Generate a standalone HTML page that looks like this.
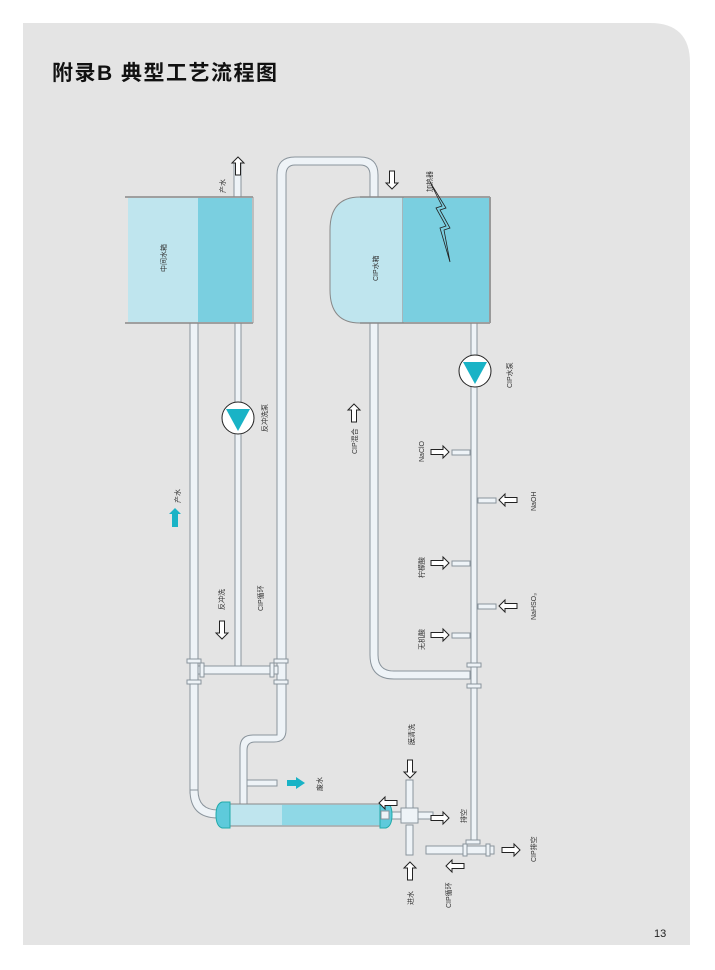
<!DOCTYPE html>
<html><head><meta charset="utf-8"><style>
html,body{margin:0;padding:0;background:#fff;}
svg{display:block;}
text{font-family:"Liberation Sans","Noto Sans CJK SC",sans-serif;fill:#333;font-size:7px;}
</style></head><body>
<svg width="715" height="970" viewBox="0 0 715 970" xmlns="http://www.w3.org/2000/svg">
<defs>
<g id="au"><path d="M0,-9 L6,-3 L2.5,-3 L2.5,9 L-2.5,9 L-2.5,-3 L-6,-3 Z" fill="#fff" stroke="#222" stroke-width="1"/></g>
</defs>
<path d="M23,23 H650 Q690,23 690,63 V945 H23 Z" fill="#e4e4e4"/>
<text x="52" y="80" style="font-size:21px;font-weight:bold;fill:#111;letter-spacing:1.5px">附录B  典型工艺流程图</text>

<g fill="#eef3f7" stroke="#8a949c" stroke-width="1">
<rect x="190" y="323" width="8" height="470"/>
<path d="M190,790 Q190,818 218,818 V810 Q198,810 198,790 Z"/>
<rect x="235" y="323" width="6" height="347"/>
<rect x="234" y="163" width="7" height="34"/>
<path d="M277,735 V175 Q277,157 295,157 H360 Q378,157 378,175 V197 H370 V175 Q370,165 360,165 H295 Q286,165 286,175 V730 Q286,742 274,742 H255 Q247,742 247,750 V805 H240 V748 Q240,735 253,735 Z"/>
<rect x="198" y="666" width="80" height="8"/>
<rect x="247" y="780" width="30" height="6"/>
<rect x="471" y="323" width="6" height="520"/>
<path d="M370,323 V655 Q370,679 394,679 H470 V671 H394 Q378,671 378,655 V323 Z"/>
<rect x="426" y="846" width="68" height="8"/>
<rect x="406" y="780" width="7" height="28"/>
<rect x="406" y="825" width="7" height="30"/>
<rect x="388" y="812" width="45" height="7"/>
<rect x="452" y="450" width="18" height="5"/>
<rect x="478" y="498" width="18" height="5"/>
<rect x="452" y="561" width="18" height="5"/>
<rect x="478" y="604" width="18" height="5"/>
<rect x="452" y="633" width="18" height="5"/>
<rect x="187" y="659" width="14" height="4"/><rect x="187" y="680" width="14" height="4"/>
<rect x="274" y="659" width="14" height="4"/><rect x="274" y="680" width="14" height="4"/>
<rect x="200" y="663" width="4" height="14"/><rect x="270" y="663" width="4" height="14"/>
<rect x="467" y="663" width="14" height="4"/><rect x="467" y="684" width="14" height="4"/>
<rect x="466" y="840" width="14" height="4"/><rect x="463" y="844" width="4" height="12"/><rect x="486" y="844" width="4" height="12"/>
<rect x="401" y="808" width="17" height="15"/>
</g>

<rect x="128" y="198" width="70" height="124" fill="#bfe5ee"/>
<rect x="198" y="198" width="54" height="124" fill="#7acfe0"/>
<line x1="125" y1="197" x2="253" y2="197" stroke="#888" stroke-width="1.5"/>
<line x1="125" y1="323" x2="253" y2="323" stroke="#888" stroke-width="1.5"/>
<line x1="253" y1="197" x2="253" y2="323" stroke="#999"/>
<path d="M360,197 H403 V323 H360 Q330,323 330,290 V230 Q330,197 360,197 Z" fill="#bfe5ee" stroke="#888"/>
<rect x="403" y="198" width="86" height="124" fill="#7acfe0"/>
<line x1="360" y1="197" x2="490" y2="197" stroke="#888" stroke-width="1.5"/>
<line x1="360" y1="323" x2="490" y2="323" stroke="#888" stroke-width="1.5"/>
<line x1="490" y1="197" x2="490" y2="323" stroke="#999" stroke-width="2"/>
<path d="M430,182 L442,206 L436,208 L446,226 L440,228 L450,262 L444,230 L450,228 L440,210 L446,208 Z" fill="none" stroke="#222" stroke-width="0.8"/>

<circle cx="238" cy="418" r="16" fill="#fff" stroke="#222"/><path d="M226,409 H250 L238,431 Z" fill="#19b3c6"/>
<circle cx="475" cy="371" r="16" fill="#fff" stroke="#222"/><path d="M463,362 H487 L475,384 Z" fill="#19b3c6"/>

<rect x="230" y="804" width="150" height="22" fill="#bfe5ee" stroke="#888"/>
<rect x="282" y="805" width="98" height="20" fill="#8fd8e6"/>
<path d="M222,802 h8 v26 h-8 q-6,-2 -6,-13 q0,-11 6,-13 Z" fill="#5ecadb" stroke="#2aa"/>
<path d="M380,802 h6 q6,2 6,13 q0,11 -6,13 h-6 Z" fill="#5ecadb" stroke="#2aa"/>
<rect x="381" y="811" width="8" height="8" fill="#eef3f7" stroke="#8a949c"/>

<use href="#au" x="238" y="166"/>
<use href="#au" x="392" y="180" transform="rotate(180 392 180)"/>
<use href="#au" x="222" y="630" transform="rotate(180 222 630)"/>
<use href="#au" x="354" y="413"/>
<path d="M175,508 L181,514 L178,514 L178,527 L172,527 L172,514 L169,514 Z" fill="#19b3c6"/>
<path d="M305,783 L296,777 V780 H287 V786 H296 V789 Z" fill="#19b3c6"/>
<use href="#au" x="440" y="452" transform="rotate(90 440 452)"/>
<use href="#au" x="508" y="500" transform="rotate(-90 508 500)"/>
<use href="#au" x="440" y="563" transform="rotate(90 440 563)"/>
<use href="#au" x="508" y="606" transform="rotate(-90 508 606)"/>
<use href="#au" x="440" y="635" transform="rotate(90 440 635)"/>
<use href="#au" x="388" y="803" transform="rotate(-90 388 803)"/>
<use href="#au" x="410" y="769" transform="rotate(180 410 769)"/>
<use href="#au" x="440" y="818" transform="rotate(90 440 818)"/>
<use href="#au" x="410" y="871"/>
<use href="#au" x="455" y="866" transform="rotate(-90 455 866)"/>
<use href="#au" x="511" y="850" transform="rotate(90 511 850)"/>

<g>
<text transform="translate(225,193) rotate(-90)">产水</text>
<text transform="translate(166,272) rotate(-90)">中间水箱</text>
<text transform="translate(378,281) rotate(-90)">CIP水箱</text>
<text transform="translate(432,192) rotate(-90)">加热器</text>
<text transform="translate(267,432) rotate(-90)">反冲洗泵</text>
<text transform="translate(512,388) rotate(-90)">CIP水泵</text>
<text transform="translate(180,503) rotate(-90)">产水</text>
<text transform="translate(357,454) rotate(-90)">CIP混合</text>
<text transform="translate(424,462) rotate(-90)">NaClO</text>
<text transform="translate(536,511) rotate(-90)">NaOH</text>
<text transform="translate(424,578) rotate(-90)">柠檬酸</text>
<text transform="translate(536,620) rotate(-90)">NaHSO₃</text>
<text transform="translate(424,650) rotate(-90)">无机酸</text>
<text transform="translate(224,610) rotate(-90)">反冲洗</text>
<text transform="translate(263,611) rotate(-90)">CIP循环</text>
<text transform="translate(322,791) rotate(-90)">废水</text>
<text transform="translate(414,745) rotate(-90)">膜清洗</text>
<text transform="translate(466,823) rotate(-90)">排空</text>
<text transform="translate(413,905) rotate(-90)">进水</text>
<text transform="translate(451,908) rotate(-90)">CIP循环</text>
<text transform="translate(536,862) rotate(-90)">CIP排空</text>
</g>
<text x="654" y="937" style="font-size:11px;fill:#222">13</text>
</svg>
</body></html>
